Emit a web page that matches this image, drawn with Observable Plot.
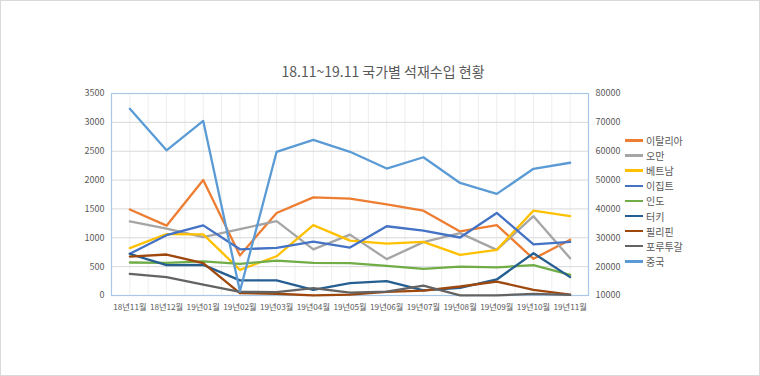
<!DOCTYPE html>
<html>
<head>
<meta charset="utf-8">
<script src="https://cdn.jsdelivr.net/npm/d3@7"></script>
<script src="https://cdn.jsdelivr.net/npm/@observablehq/plot@0.6"></script>
<style>
  html, body { margin: 0; padding: 0; background: #fff; }
  #wrap { position: relative; width: 760px; height: 376px; font-family: "Noto Sans CJK KR", "Noto Sans", sans-serif; }
  #border { position: absolute; left: 0; top: 0; width: 758px; height: 374px; border: 1px solid #D9D9D9; pointer-events: none; }
  #title { position: absolute; left: 0; width: 766px; top: 61px; text-align: center; font-size: 14px; color: #595959; }
  #legend { position: absolute; left: 625px; top: 133px; font-size: 10px; color: #595959; }
  .item { height: 15.1px; display: flex; align-items: center; }
  .sw { width: 18px; height: 2.5px; margin-right: 3px; }
</style>
</head>
<body>
<div id="wrap">
  <div id="chart"></div>
  <div id="title">18.11~19.11 국가별 석재수입 현황</div>
  <div id="legend"></div>
  <div id="border"></div>
</div>
<script>
const months = ["18년11월","18년12월","19년01월","19년02월","19년03월","19년04월","19년05월","19년06월","19년07월","19년08월","19년09월","19년10월","19년11월"];

const italy       = [1490,1210,2000,695,1430,1700,1680,1580,1470,1110,1220,635,965];
const oman        = [1285,1160,1010,1150,1290,800,1055,630,925,1080,790,1375,645];
const vietnam     = [820,1065,1060,445,680,1220,950,900,930,705,790,1470,1375];
const egypt       = [725,1045,1215,800,825,935,830,1200,1125,1005,1430,885,930];
const india       = [572,566,590,548,605,566,560,514,462,502,488,525,358];
const turkey      = [720,525,530,262,262,98,216,248,88,133,278,733,318];
const philippines = [675,710,560,40,30,3,15,62,85,156,242,98,17];
const portugal    = [375,318,190,62,58,127,50,68,172,3,3,28,10];
// secondary (right) axis
const china       = [74700,60300,70500,11500,59800,63900,59800,54000,57900,49000,45200,53900,56000];

const leftTicks = [0,500,1000,1500,2000,2500,3000,3500];
const rightTicks = [10000,20000,30000,40000,50000,60000,70000,80000];

const seriesNames = ["이탈리아","오만","베트남","이집트","인도","터키","필리핀","포루투갈","중국"];
const seriesVals = [italy, oman, vietnam, egypt, india, turkey, philippines, portugal, china];
const colors = ["#ED7D31","#A5A5A5","#FFC000","#4472C4","#70AD47","#255E91","#9E480E","#636363","#5B9BD5"];

// map secondary axis onto primary scale (10000..80000 -> 0..3500)
const r0 = rightTicks[0], r1 = rightTicks[rightTicks.length-1];
const l0 = leftTicks[0], l1 = leftTicks[leftTicks.length-1];
const toLeft = v => l0 + (v - r0) * (l1 - l0) / (r1 - r0);
const toRight = v => r0 + (v - l0) * (r1 - r0) / (l1 - l0);

const rows = [];
seriesNames.forEach((name, s) => {
  seriesVals[s].forEach((v, i) => {
    rows.push({series: name, i, y: s === 8 ? toLeft(v) : v});
  });
});

const halfGrid = d3.range(-0.5, months.length - 0.49, 0.5);

const chart = Plot.plot({
  width: 760,
  height: 376,
  marginLeft: 111,
  marginRight: 172,
  marginTop: 93,
  marginBottom: 81,
  style: {fontFamily: "'Noto Sans CJK KR', 'Noto Sans', sans-serif", fontSize: "9px", color: "#595959", background: "transparent"},
  x: {domain: [-0.5, months.length - 0.5]},
  y: {domain: [l0, l1]},
  color: {domain: seriesNames, range: colors},
  marks: [
    Plot.ruleX(halfGrid, {stroke: "#EEEEEE", strokeWidth: 1}),
    Plot.ruleY(leftTicks, {stroke: "#D9D9D9", strokeWidth: 1}),
    Plot.frame({stroke: "#A9C8E8", strokeWidth: 1.2}),
    Plot.axisX(d3.range(months.length), {label: null, tickSize: 0, tickPadding: 9, tickFormat: i => months[i], fill: "#595959", fontSize: 8.2}),
    Plot.axisY(leftTicks, {anchor: "left", tickSize: 0, tickPadding: 7, label: null, tickFormat: v => String(v), fill: "#595959", fontSize: 9}),
    Plot.axisY(leftTicks, {anchor: "right", tickSize: 0, tickPadding: 7, label: null, tickFormat: v => String(Math.round(toRight(v))), fill: "#595959", fontSize: 9}),
    Plot.line(rows, {x: "i", y: "y", z: "series", stroke: "series", strokeWidth: 2.3, strokeLinejoin: "round", strokeLinecap: "round"})
  ]
});
document.getElementById("chart").appendChild(chart);

const legend = document.getElementById("legend");
seriesNames.forEach((name, s) => {
  const d = document.createElement("div");
  d.className = "item";
  d.innerHTML = `<span class="sw" style="background:${colors[s]}"></span><span>${name}</span>`;
  legend.appendChild(d);
});
</script>
</body>
</html>
